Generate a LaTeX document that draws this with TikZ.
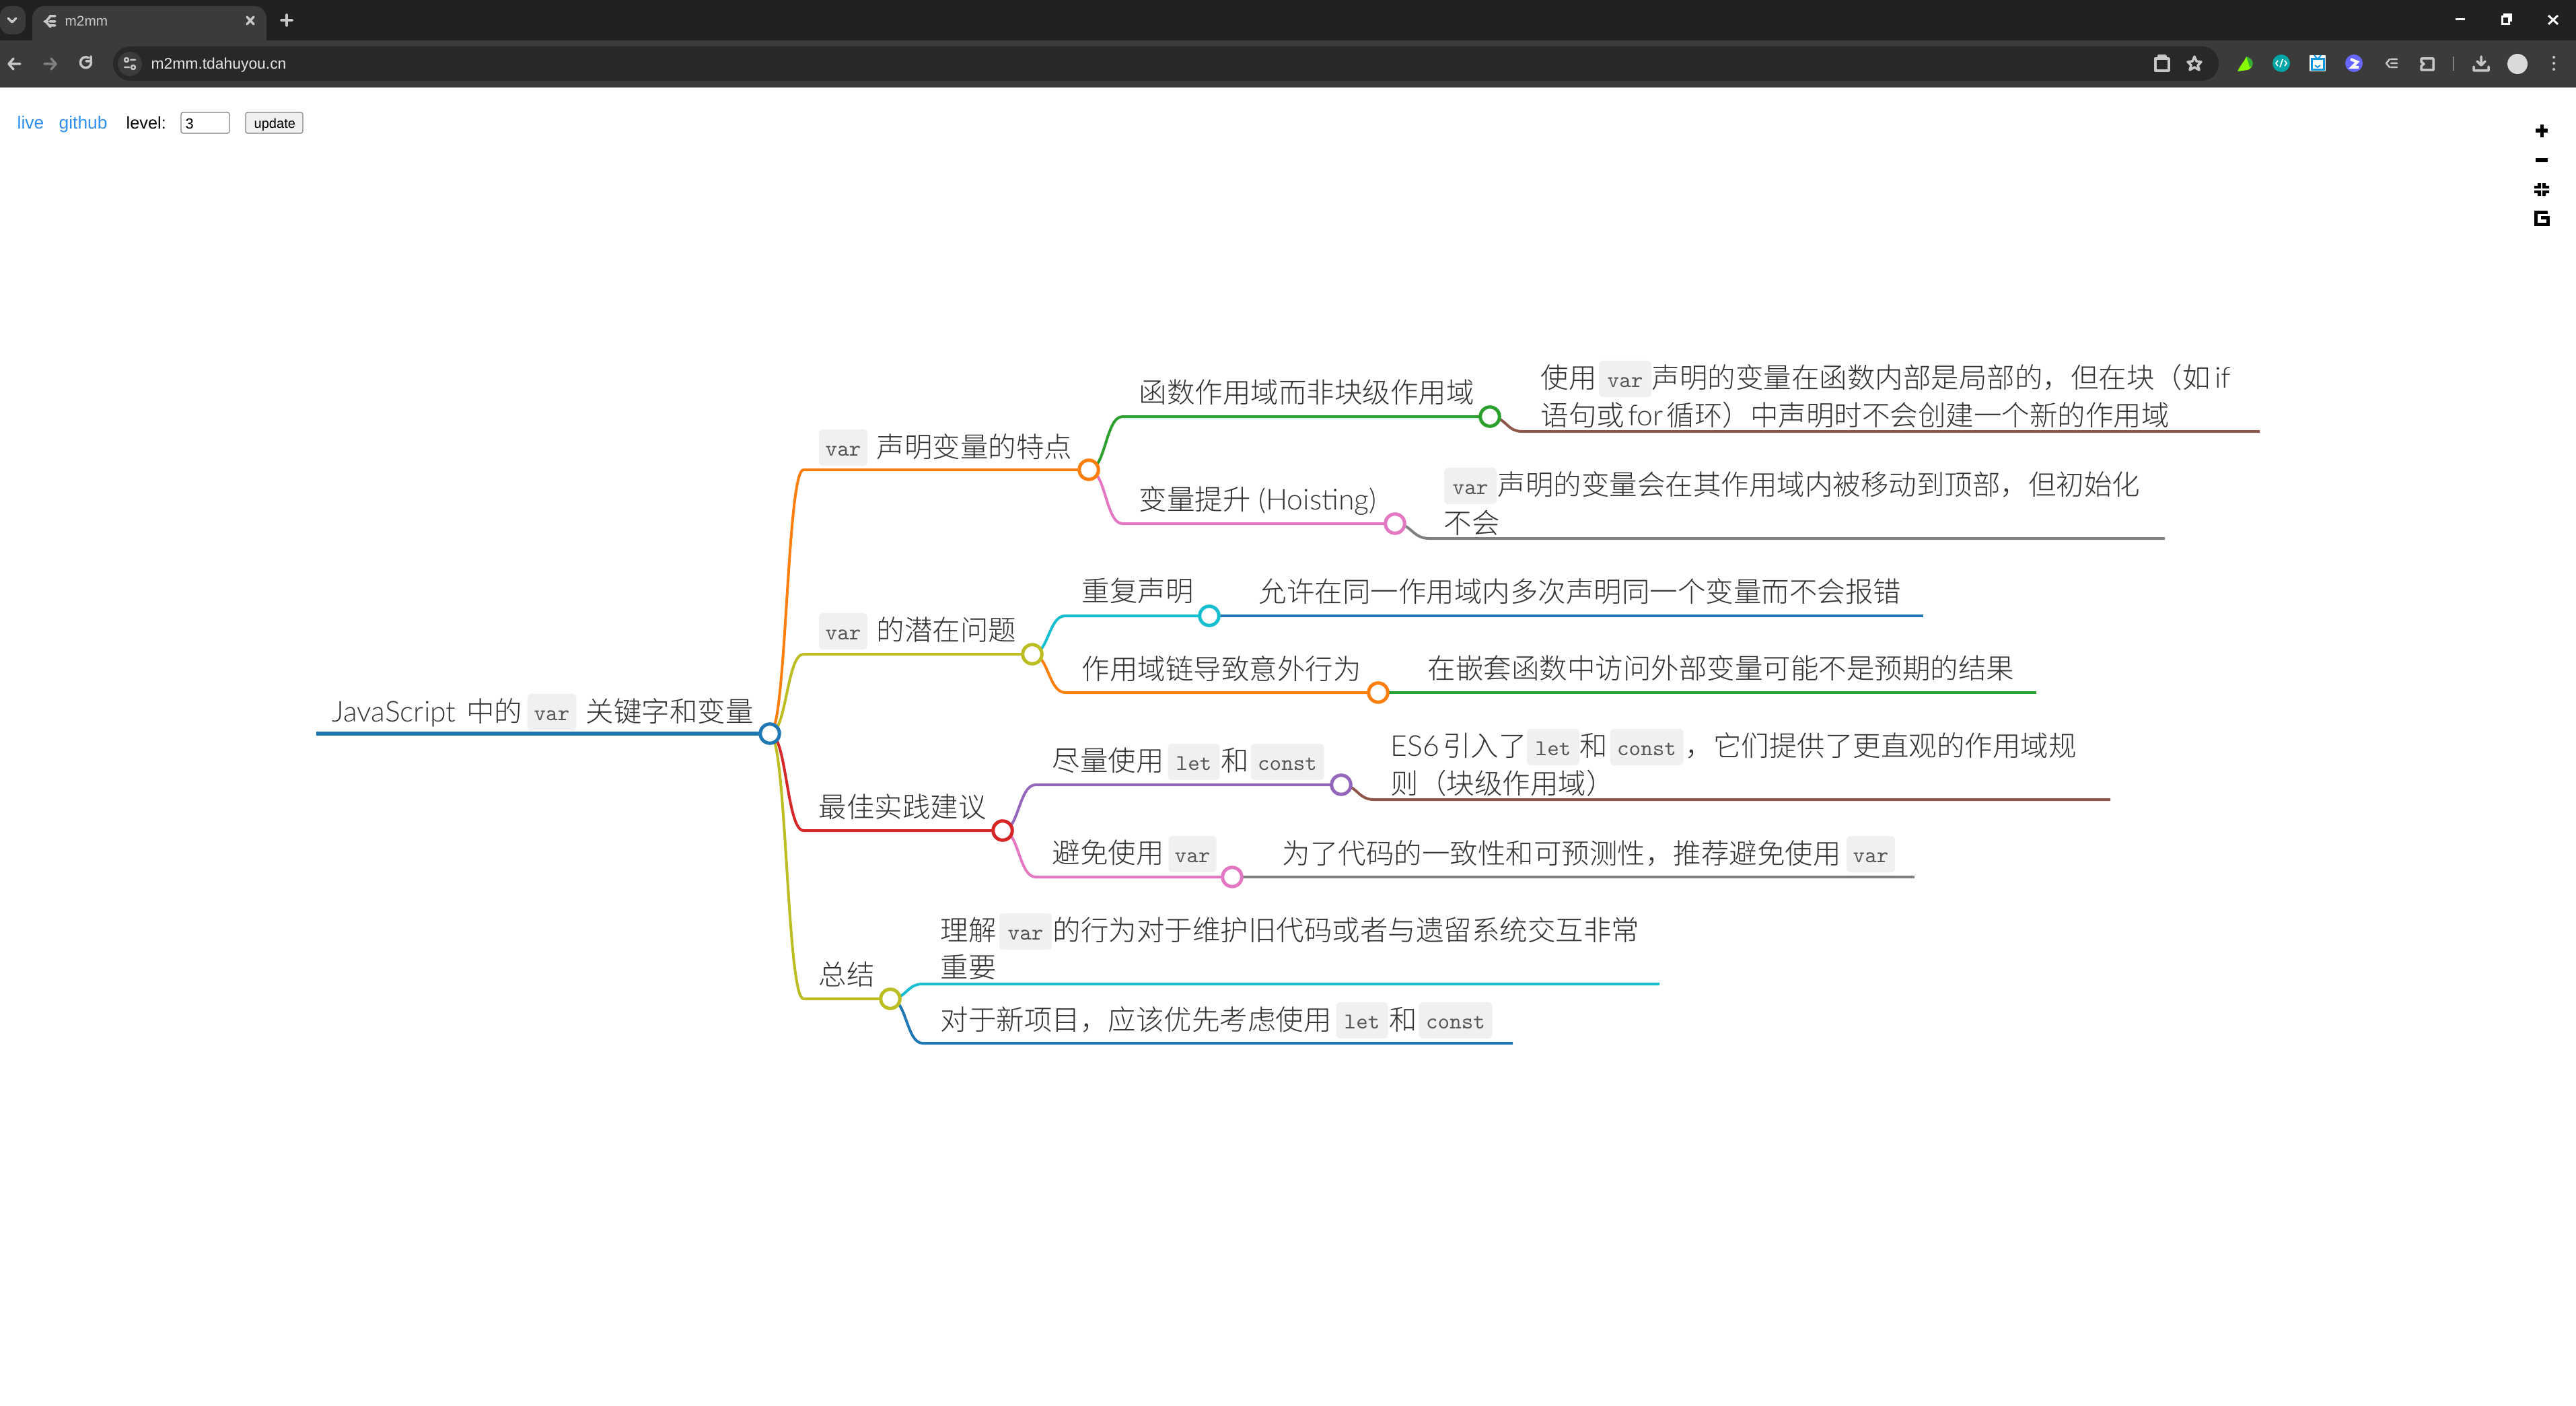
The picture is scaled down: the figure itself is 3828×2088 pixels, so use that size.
\documentclass[tikz,border=0pt]{standalone}
\usepackage{fontspec}
\setmainfont{Noto Sans CJK SC Light}
\newfontfamily\uifont{Liberation Sans}
\newfontfamily\latfont[Scale=1.03]{Lato Light}
\usetikzlibrary{backgrounds}
\definecolor{mblue}{HTML}{1F77B4}
\definecolor{morange}{HTML}{FF7F0E}
\definecolor{mgreen}{HTML}{2CA02C}
\definecolor{mred}{HTML}{D62728}
\definecolor{mpurple}{HTML}{9467BD}
\definecolor{mbrown}{HTML}{8C564B}
\definecolor{mpink}{HTML}{E377C2}
\definecolor{mgray}{HTML}{7F7F7F}
\definecolor{molive}{HTML}{BCBD22}
\definecolor{mcyan}{HTML}{17BECF}
\definecolor{inktext}{HTML}{333333}
\definecolor{codebg}{HTML}{F0F0F0}
\definecolor{codeink}{HTML}{555555}
\definecolor{chromedark}{HTML}{202221}
\definecolor{chromebar}{HTML}{3B3B3B}
\definecolor{chromepill}{HTML}{282828}
\definecolor{chromeink}{HTML}{C7C7C7}
\definecolor{linkblue}{HTML}{2F8FF0}
\tikzset{
  maptext/.style={anchor=base west,inner sep=0pt,text=inktext,font=\fontsize{11.8}{14}\selectfont},
  codebox/.style={minimum width=#1*0.01cm,fill=codebg,rounded corners=0.06cm,inner sep=0pt,
    text height=.39cm,text depth=.15cm,text=codeink,font=\fontsize{9.5}{11}\ttfamily},
  dot/.style={circle,draw=#1,line width=.05cm,fill=white,minimum size=.285cm,inner sep=0pt},
  link/.style={draw=#1,line width=.04cm,line join=round},
  uitext/.style={anchor=base west,inner sep=0pt,font=\fontsize{7.5}{9}\uifont},
  chromeicon/.style={draw=chromeink,line width=.035cm,line cap=round,line join=round},
  mapctl/.style={draw=black,line width=.05cm}
}
\begin{document}
\begin{tikzpicture}[x=0.01cm,y=-0.01cm]
\useasboundingbox (0,0) rectangle (3828,2088);
% browser frame
\fill[chromedark] (0,0) rectangle (3828,60);
\fill[chromebar] (0,60) rectangle (3828,130);
\fill[chromebar,rounded corners=0.18cm] (48,9) rectangle (396,80);
\fill[chromebar,rounded corners=0.15cm] (0,9) rectangle (38,51);
\fill[chromepill,rounded corners=0.25cm] (168,69) rectangle (3297,120);
\fill[chromebar] (193,95) circle (18);
\node[uitext,text=chromeink,font=\fontsize{5.9}{8}\uifont] (tabTitle) at (96,39) {m2mm};
\node[uitext,text=white!90!black,font=\fontsize{6.5}{9}\uifont] (urlText) at (224,103) {m2mm.tdahuyou.cn};
\draw[chromeicon] (12,27) -- (18,33) -- (24,27);
\draw[chromeicon] (75,24) -- (68,32) -- (75,40) (66,32) -- (71,32) (74,24) -- (82,24) (74,32) -- (82,32) (74,38) -- (82,38);
\draw[chromeicon] (367,25) -- (377,36) (377,25) -- (367,36);
\draw[chromeicon] (426,22) -- (426,38) (418,30) -- (434,30);
\draw[chromeicon] (30,95) -- (13,95) (20,87) -- (13,95) -- (20,103);
\draw[chromeicon,draw=gray] (66,95) -- (83,95) (76,87) -- (83,95) -- (76,103);
\draw[chromeicon] (135,90) arc (-20:300:8) (135,84) -- (135,91) -- (128,91);
\draw[chromeicon,line width=.025cm] (188,89) circle (3) (194,89) -- (201,89) (185,100) -- (192,100) (198,100) circle (3);
% toolbar icons
\draw[chromeicon] (3203,87) rectangle (3223,105) (3208,87) -- (3208,83) -- (3218,83) -- (3218,87);
\draw[chromeicon] (3261,84) -- (3264,91) -- (3271,92) -- (3266,97) -- (3268,104) -- (3261,100) -- (3254,104) -- (3256,97) -- (3251,92) -- (3258,91) -- cycle;
\fill[lime!70!green] (3325,106) .. controls (3330,95) and (3335,92) .. (3338,84) .. controls (3350,88) and (3350,100) .. (3340,104) -- cycle;
\fill[green!60!black!80!white] (3338,84) .. controls (3350,88) and (3350,98) .. (3343,100) .. controls (3342,95) and (3340,90) .. (3338,84) -- cycle;
\fill[teal!70!cyan] (3390,94) circle (13);
\draw[white,line width=.018cm] (3385,90) -- (3382,94) -- (3385,98) (3395,90) -- (3398,94) -- (3395,98) (3392,88) -- (3388,100);
\fill[white] (3432,82) rectangle (3456,106);
\draw[cyan!80!blue,line width=.03cm] (3435,88) rectangle (3453,104);
\draw[cyan!80!blue,line width=.02cm] (3439,82) -- (3444,88) -- (3449,82) (3440,97) -- (3444,100) -- (3448,97);
\fill[blue!60!white] (3498,94) circle (13);
\draw[white,line width=.04cm] (3493,88) -- (3503,92) -- (3495,100) -- (3505,100);
\draw[chromeicon,line width=.025cm] (3551,88) -- (3546,94) -- (3551,100) (3553,88) -- (3562,88) (3553,94) -- (3562,94) (3553,100) -- (3562,100);
\draw[chromeicon] (3598,87) -- (3616,87) -- (3616,104) -- (3598,104) -- (3598,98) -- (3602,95) -- (3598,92) -- cycle;
\draw[gray,line width=.025cm] (3646,84) -- (3646,105);
\draw[chromeicon] (3687,84) -- (3687,97) (3681,91) -- (3687,97) -- (3693,91) (3676,99) -- (3676,105) -- (3698,105) -- (3698,99);
\fill[white!85!black] (3741,95) circle (15);
\foreach \dy in {85,94,103} \fill[chromeink] (3795,\dy) circle (2);
\draw[white,line width=.03cm] (3649,29) -- (3663,29);
\draw[white,line width=.03cm] (3718,25) rectangle (3728,36) (3721,25) -- (3721,22) -- (3731,22) -- (3731,32);
\draw[white,line width=.03cm] (3787,23) -- (3801,36) (3801,23) -- (3787,36);
% page header
\node[uitext,text=linkblue] (liveLink) at (25,192) {live};
\node[uitext,text=linkblue] (githubLink) at (87,192) {github};
\node[uitext,text=black,font=\fontsize{7.2}{9}\uifont] (levelLabel) at (187,192) {level:};
\draw[rounded corners=0.03cm,draw=gray,fill=white,line width=.012cm] (269,167) rectangle (341,198);
\node[uitext,text=black,font=\fontsize{6.2}{8}\uifont] (levelValue) at (275,192) {3};
\draw[rounded corners=0.03cm,draw=gray,fill=black!6,line width=.012cm] (365,167) rectangle (450,198);
\node[uitext,text=black,font=\fontsize{5.7}{8}\uifont] (updateBtn) at (377,191) {update};
% zoom controls
\draw[mapctl] (3777,185) -- (3777,204) (3768,194) -- (3786,194);
\draw[mapctl] (3768,238) -- (3786,238);
\fill (3771,272) rectangle (3776,280) (3766,276) rectangle (3776,280) (3778,272) rectangle (3783,280) (3778,276) rectangle (3788,280);
\fill (3766,283) rectangle (3776,287) (3771,283) rectangle (3776,291) (3778,283) rectangle (3788,287) (3778,283) rectangle (3783,291);
\draw[mapctl] (3786,315) -- (3768,315) -- (3768,333) -- (3786,333) -- (3786,323) -- (3776,323);
% branch points
\node[dot=mblue] (root) at (1144,1090) {};
\node[dot=morange] (features) at (1618,698) {};
\node[dot=molive] (problems) at (1534,972) {};
\node[dot=mred] (tips) at (1490,1234) {};
\node[dot=molive] (summary) at (1323,1484) {};
\node[dot=mgreen] (funcScope) at (2214,619) {};
\node[dot=mpink] (hoisting) at (2073,778) {};
\node[dot=mcyan] (redeclare) at (1797,915) {};
\node[dot=morange] (scopeChain) at (2048,1029) {};
\node[dot=mpurple] (useLet) at (1993,1166) {};
\node[dot=mpink] (avoidVar) at (1831,1303) {};
% free ends
\coordinate (rootStart) at (470,1090);
\coordinate (featuresKnee) at (1194,698);
\coordinate (problemsKnee) at (1194,972);
\coordinate (tipsKnee) at (1194,1234);
\coordinate (summaryKnee) at (1194,1484);
\coordinate (funcKnee) at (1668,619);
\coordinate (hoistKnee) at (1668,778);
\coordinate (redeclareKnee) at (1583,915);
\coordinate (chainKnee) at (1583,1029);
\coordinate (letKnee) at (1539,1166);
\coordinate (avoidKnee) at (1539,1303);
\coordinate (funcLeafKnee) at (2262,641);
\coordinate (funcLeafEnd) at (3358,641);
\coordinate (hoistLeafKnee) at (2124,800);
\coordinate (hoistLeafEnd) at (3217,800);
\coordinate (redeclareLeafEnd) at (2858,915);
\coordinate (chainLeafEnd) at (3026,1029);
\coordinate (letLeafKnee) at (2042,1188);
\coordinate (letLeafEnd) at (3136,1188);
\coordinate (avoidLeafEnd) at (2845,1303);
\coordinate (legacyKnee) at (1371,1462);
\coordinate (legacyEnd) at (2466,1462);
\coordinate (newKnee) at (1371,1550);
\coordinate (newEnd) at (2248,1550);
\begin{scope}[on background layer]
\draw[link=mblue,line width=.055cm] (rootStart) -- (root.center);
\draw[link=morange] (root.center) .. controls (1169,1090) and (1169,698) .. (featuresKnee) -- (features.center);
\draw[link=molive] (root.center) .. controls (1169,1090) and (1169,972) .. (problemsKnee) -- (problems.center);
\draw[link=mred] (root.center) .. controls (1169,1090) and (1169,1234) .. (tipsKnee) -- (tips.center);
\draw[link=molive] (root.center) .. controls (1169,1090) and (1169,1484) .. (summaryKnee) -- (summary.center);
\draw[link=mgreen] (features.center) .. controls (1643,698) and (1643,619) .. (funcKnee) -- (funcScope.center);
\draw[link=mpink] (features.center) .. controls (1643,698) and (1643,778) .. (hoistKnee) -- (hoisting.center);
\draw[link=mcyan] (problems.center) .. controls (1558,972) and (1558,915) .. (redeclareKnee) -- (redeclare.center);
\draw[link=morange] (problems.center) .. controls (1558,972) and (1558,1029) .. (chainKnee) -- (scopeChain.center);
\draw[link=mpurple] (tips.center) .. controls (1514,1234) and (1514,1166) .. (letKnee) -- (useLet.center);
\draw[link=mpink] (tips.center) .. controls (1514,1234) and (1514,1303) .. (avoidKnee) -- (avoidVar.center);
\draw[link=mcyan] (summary.center) .. controls (1347,1484) and (1347,1462) .. (legacyKnee) -- (legacyEnd);
\draw[link=mblue] (summary.center) .. controls (1347,1484) and (1347,1550) .. (newKnee) -- (newEnd);
\draw[link=mbrown] (funcScope.center) .. controls (2238,619) and (2238,641) .. (funcLeafKnee) -- (funcLeafEnd);
\draw[link=mgray] (hoisting.center) .. controls (2098,778) and (2098,800) .. (hoistLeafKnee) -- (hoistLeafEnd);
\draw[link=mblue] (redeclare.center) -- (redeclareLeafEnd);
\draw[link=mgreen] (scopeChain.center) -- (chainLeafEnd);
\draw[link=mbrown] (useLet.center) .. controls (2017,1166) and (2017,1188) .. (letLeafKnee) -- (letLeafEnd);
\draw[link=mgray] (avoidVar.center) -- (avoidLeafEnd);
\end{scope}
% root
\node[maptext] (rootA) at (493,1072) {{\latfont JavaScript}\kern.38em 中的};
\node[codebox=73] (rootCode) at (820,1058) {var};
\node[maptext] (rootB) at (870,1072) {关键字和变量};
% first level
\node[codebox=72] (featuresCode) at (1253,665) {var};
\node[maptext] (featuresText) at (1302,679) {声明变量的特点};
\node[codebox=72] (problemsCode) at (1253,938) {var};
\node[maptext] (problemsText) at (1302,951) {的潜在问题};
\node[maptext] (tipsText) at (1216,1214) {最佳实践建议};
\node[maptext] (summaryText) at (1216,1463) {总结};
% second level
\node[maptext] (funcText) at (1692,598) {函数作用域而非块级作用域};
\node[maptext] (hoistText) at (1692,757) {变量提升{\latfont\ (Hoisting)}};
\node[maptext] (redeclareText) at (1607,893) {重复声明};
\node[maptext] (chainText) at (1607,1009) {作用域链导致意外行为};
\node[maptext] (letA) at (1563,1145) {尽量使用};
\node[codebox=77] (letCodeA) at (1774,1132) {let};
\node[maptext] (letB) at (1814,1145) {和};
\node[codebox=109] (letCodeB) at (1913,1132) {const};
\node[maptext] (avoidA) at (1563,1282) {避免使用};
\node[codebox=71] (avoidCode) at (1772,1269) {var};
% leaves
\node[maptext] (funcLeafA) at (2289,576) {使用};
\node[codebox=78] (funcLeafCode) at (2415,563) {var};
\node[maptext] (funcLeafB) at (2454,576) {声明的变量在函数内部是局部的，但在块（如\kern.16em{\latfont if}};
\node[maptext] (funcLeafC) at (2289,632) {语句或\kern.12em{\latfont for}\kern.12em 循环）中声明时不会创建一个新的作用域};
\node[codebox=78] (hoistLeafCode) at (2185,722) {var};
\node[maptext] (hoistLeafA) at (2225,735) {声明的变量会在其作用域内被移动到顶部，但初始化};
\node[maptext] (hoistLeafB) at (2145,792) {不会};
\node[maptext] (redeclareLeaf) at (1870,894) {允许在同一作用域内多次声明同一个变量而不会报错};
\node[maptext] (chainLeaf) at (2121,1008) {在嵌套函数中访问外部变量可能不是预期的结果};
\node[maptext] (letLeafA) at (2066,1123) {{\latfont ES6}\kern.12em 引入了};
\node[codebox=78] (letLeafCodeA) at (2308,1110) {let};
\node[maptext] (letLeafB) at (2347,1123) {和};
\node[codebox=109] (letLeafCodeB) at (2447,1110) {const};
\node[maptext] (letLeafC) at (2504,1123) {，它们提供了更直观的作用域规};
\node[maptext] (letLeafD) at (2066,1179) {则（块级作用域）};
\node[maptext] (avoidLeafA) at (1905,1283) {为了代码的一致性和可预测性，推荐避免使用};
\node[codebox=72] (avoidLeafCode) at (2780,1269) {var};
\node[maptext] (legacyA) at (1397,1397) {理解};
\node[codebox=78] (legacyCode) at (1524,1384) {var};
\node[maptext] (legacyB) at (1564,1397) {的行为对于维护旧代码或者与遗留系统交互非常};
\node[maptext] (legacyC) at (1397,1452) {重要};
\node[maptext] (newA) at (1397,1530) {对于新项目，应该优先考虑使用};
\node[codebox=77] (newCodeA) at (2024,1516) {let};
\node[maptext] (newB) at (2064,1530) {和};
\node[codebox=109] (newCodeB) at (2163,1516) {const};
\end{tikzpicture}
\end{document}
